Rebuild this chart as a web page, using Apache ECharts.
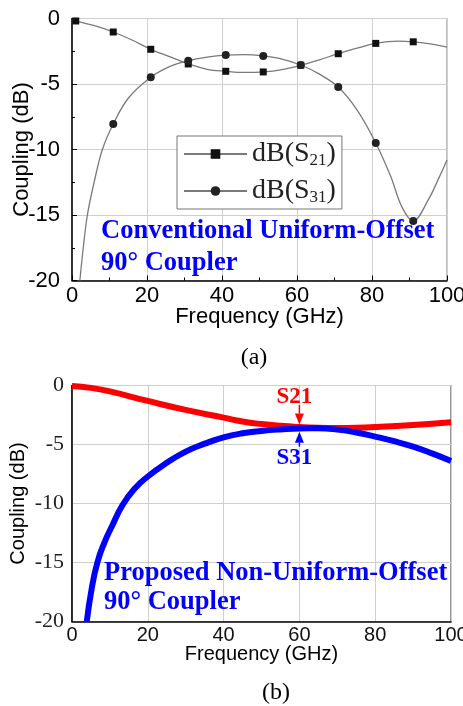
<!DOCTYPE html>
<html><head><meta charset="utf-8">
<script src="https://cdn.jsdelivr.net/npm/echarts@6/dist/echarts.min.js"></script>
<style>html,body{margin:0;padding:0;background:#fff}#c{width:463px;height:706px}</style>
</head><body><div id="c"></div><script>
// ---------- data ----------
const xMin = 0, xMax = 100, xStep = 20;
const yMin = -20, yMax = 0, yStep = 5;

// (a) Conventional coupler: marker points and extra points
const s21ConvMarkerFreq = [1, 11, 21, 31, 41, 51, 61, 71, 81, 91];
const s21ConvMarkers    = [-0.19, -1.03, -2.35, -3.47, -4.03, -4.08, -3.57, -2.69, -1.9, -1.78];
const s21ConvCurveFreq  = [0, 6, 16, 26, 36, 46, 56, 66, 76, 87, 96, 100];
const s21ConvCurve      = [-0.05, -0.55, -1.64, -2.91, -3.88, -4.12, -3.9, -3.15, -2.27, -1.72, -1.95, -2.18];

const s31ConvMarkerFreq = [11, 21, 31, 41, 51, 61, 71, 81, 91];
const s31ConvMarkers    = [-8.05, -4.49, -3.22, -2.79, -2.86, -3.55, -5.23, -9.5, -15.46];
const s31ConvCurveFreq  = [2.1, 3, 4.1, 5.9, 8.1, 15, 26, 36, 46, 56, 66, 76, 85, 88, 95, 98, 100];
const s31ConvCurve      = [-20, -17.5, -15, -12.5, -10, -6.09, -3.68, -2.95, -2.75, -3.1, -4.25, -6.98, -12.07, -14.4, -13.85, -12.07, -10.8];

// (b) Proposed coupler
const s21PropFreq = [0, 5, 10, 20, 30, 40, 45, 50, 55, 60, 65, 70, 75, 80, 90, 100];
const s21Prop     = [-0.05, -0.2, -0.5, -1.31, -2.07, -2.72, -3.05, -3.27, -3.42, -3.52, -3.58, -3.6, -3.58, -3.52, -3.34, -3.11];
const s31PropFreq = [3.9, 5.2, 6.7, 8.5, 10.5, 13.3, 16.5, 20, 25, 30, 35, 40, 45, 50, 55, 60, 65, 70, 75, 80, 85, 90, 95, 100];
const s31Prop     = [-20, -17.2, -15, -13.35, -11.95, -10.15, -8.75, -7.71, -6.55, -5.6, -4.93, -4.39, -4.05, -3.85, -3.72, -3.64, -3.63, -3.74, -3.98, -4.33, -4.72, -5.18, -5.75, -6.39];

const seriesNames = ['dB(S21)', 'dB(S31)'];
const textA = ['Conventional Uniform-Offset', '90\u00b0 Coupler'];
const textB = ['Proposed Non-Uniform-Offset', '90\u00b0 Coupler'];

// ---------- build ----------
function buildLine(mf, mv, cf, cv) {
  const items = [];
  mf.forEach((f, i) => items.push({ value: [f, mv[i]] }));
  cf.forEach((f, i) => items.push({ value: [f, cv[i]], symbol: 'none' }));
  items.sort((a, b) => a.value[0] - b.value[0]);
  return items;
}
function pairs(f, v) { return f.map((x, i) => [x, v[i]]); }

const sans = '"Liberation Sans", Arial, sans-serif';
const serif = '"Liberation Serif", "Times New Roman", serif';

function xAxisCfg(gi, top) {
  return {
    type: 'value', gridIndex: gi, min: xMin, max: xMax, interval: xStep,
    name: 'Frequency (GHz)', nameLocation: 'middle', nameGap: top ? 25 : 23, nameMoveOverlap: false,
    nameTextStyle: { fontFamily: sans, fontSize: top ? 22 : 20, color: '#000' },
    axisLine: { show: true, onZero: false, lineStyle: { color: '#000', width: 1.5 } },
    axisTick: { show: top, inside: true, length: 5, lineStyle: { color: '#000' } },
    minorTick: { show: top, splitNumber: 2, length: 3, lineStyle: { color: '#000' } },
    axisLabel: { margin: 4, fontFamily: sans, fontSize: top ? 22 : 20, color: top ? '#000' : '#111' },
    splitLine: { show: true, lineStyle: { color: '#cfcfcf', width: 1 } }
  };
}
function yAxisCfg(gi, top) {
  return {
    type: 'value', gridIndex: gi, min: yMin, max: yMax, interval: yStep,
    name: 'Coupling (dB)', nameLocation: 'middle', nameGap: top ? 39 : 44, nameMoveOverlap: false,
    nameTextStyle: { fontFamily: sans, fontSize: top ? 22 : 20, color: '#000' },
    axisLine: { show: true, onZero: false, lineStyle: { color: '#000', width: 1.5 } },
    axisTick: { show: top, inside: true, length: 5, lineStyle: { color: '#000' } },
    minorTick: { show: top, splitNumber: 2, length: 3, lineStyle: { color: '#000' } },
    axisLabel: { margin: top ? 12 : 8, fontFamily: top ? sans : serif, fontSize: 22, color: top ? '#000' : '#222' },
    splitLine: { show: true, lineStyle: { color: '#cfcfcf', width: 1 } }
  };
}

const chart = echarts.init(document.getElementById('c'), null, { renderer: 'canvas' });
chart.setOption({
  animation: false,
  backgroundColor: '#fff',
  grid: [
    { left: 72, right: 16, top: 18.5, height: 262, show: true, borderColor: '#808080', borderWidth: 1, backgroundColor: 'transparent', containLabel: false, outerBoundsMode: 'none' },
    { left: 72, right: 12, top: 385.5, height: 236, show: true, borderColor: '#555', borderWidth: 1.2, backgroundColor: 'transparent', containLabel: false, outerBoundsMode: 'none' }
  ],
  xAxis: [xAxisCfg(0, true), xAxisCfg(1, false)],
  yAxis: [yAxisCfg(0, true), yAxisCfg(1, false)],
  legend: {
    data: seriesNames, orient: 'vertical', left: 177, top: 136,
    backgroundColor: '#fff', borderColor: '#777', borderWidth: 1,
    padding: [3, 6, 3, 6], itemGap: 7, itemWidth: 63, itemHeight: 12,
    formatter: n => n.replace(/S(\d+)/, 'S{sub|$1}'),
    textStyle: {
      fontFamily: serif, fontSize: 28, color: '#222', lineHeight: 30,
      rich: { sub: { fontFamily: serif, fontSize: 17, color: '#222', lineHeight: 14, verticalAlign: 'bottom' } }
    }
  },
  series: [
    { name: seriesNames[0], type: 'line', xAxisIndex: 0, yAxisIndex: 0, smooth: 0.35, showAllSymbol: true,
      symbol: 'rect', symbolSize: 7, itemStyle: { color: '#111' }, lineStyle: { color: '#7a7a7a', width: 1.3 },
      data: buildLine(s21ConvMarkerFreq, s21ConvMarkers, s21ConvCurveFreq, s21ConvCurve), z: 3 },
    { name: seriesNames[1], type: 'line', xAxisIndex: 0, yAxisIndex: 0, smooth: 0.35, showAllSymbol: true,
      symbol: 'circle', symbolSize: 8, itemStyle: { color: '#222' }, lineStyle: { color: '#7a7a7a', width: 1.3 },
      data: buildLine(s31ConvMarkerFreq, s31ConvMarkers, s31ConvCurveFreq, s31ConvCurve), z: 3 },
    { name: 'S21b', type: 'line', xAxisIndex: 1, yAxisIndex: 1, smooth: 0.5, symbol: 'none',
      lineStyle: { color: '#ff0000', width: 6 }, data: pairs(s21PropFreq, s21Prop), z: 3 },
    { name: 'S31b', type: 'line', xAxisIndex: 1, yAxisIndex: 1, smooth: 0.5, symbol: 'none',
      lineStyle: { color: '#0000ff', width: 6 }, data: pairs(s31PropFreq, s31Prop), z: 4 }
  ]
});

// ---------- annotations ----------
const px = (v) => chart.convertToPixel({ xAxisIndex: 1, yAxisIndex: 1 }, v);
const blue = '#0000ff', red = '#ff0000';
const g = [];
function txt(t, x, y, font, fill, align) {
  g.push({ type: 'text', z: 10, style: { text: t, x, y, font, fill, align: align || 'left', verticalAlign: 'middle' } });
}
const bigFont = 'bold 26.5px ' + serif;
txt(textA[0], 101, 231, bigFont, blue);
txt(textA[1], 101, 263, bigFont, blue);
txt(textB[0], 104, 573, bigFont, blue);
txt(textB[1], 104, 602, bigFont, blue);
txt('(a)', 254, 358, '24px ' + serif, '#000', 'center');
txt('(b)', 276, 693, '24px ' + serif, '#000', 'center');

function arrow(from, tip, color) {
  const a = px(from), b = px(tip);
  const dir = b[1] > a[1] ? 1 : -1;
  const head = 11, hw = 4.5;
  g.push({ type: 'line', z: 11, shape: { x1: a[0], y1: a[1], x2: b[0], y2: b[1] - dir * head }, style: { stroke: color, lineWidth: 1.5 } });
  g.push({ type: 'polygon', z: 11, shape: { points: [[b[0], b[1]], [b[0] - hw, b[1] - dir * head], [b[0] + hw, b[1] - dir * head]] }, style: { fill: color } });
}
arrow([60, -1.65], [60, -3.3], red);
arrow([60, -5.18], [60, -3.92], blue);
const l21 = px([60, -0.97]), l31 = px([60, -6.13]);
txt('S21', l21[0] - 5, l21[1], 'bold 23px ' + serif, red, 'center');
txt('S31', l31[0] - 5, l31[1], 'bold 23px ' + serif, blue, 'center');
chart.setOption({ graphic: g });
</script></body></html>
